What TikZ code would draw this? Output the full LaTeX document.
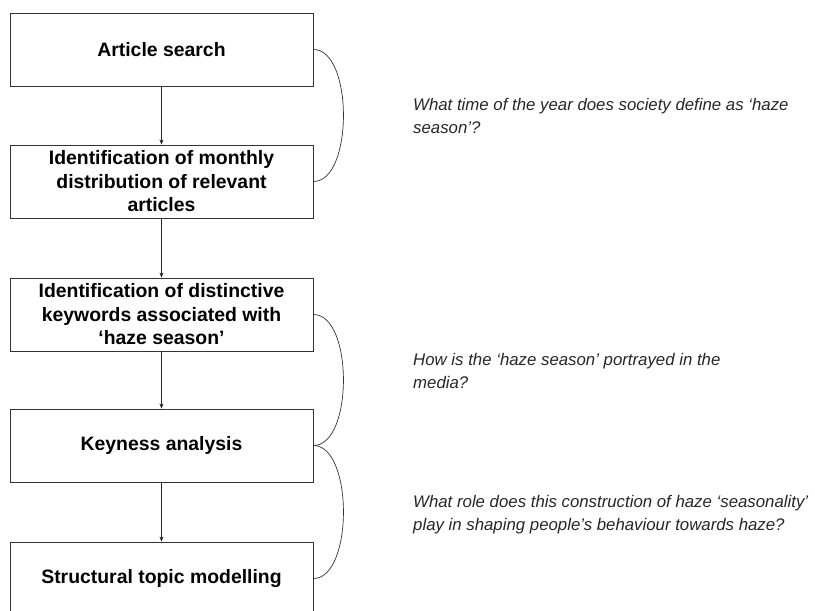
\documentclass[tikz,border=0pt]{standalone}
\usepackage{fontspec}
\setmainfont{Liberation Sans}
\usetikzlibrary{arrows.meta,positioning}

\begin{document}
\begin{tikzpicture}[x=1pt,y=-1pt,
  stage/.style={draw=black!80,line width=0.9pt,minimum width=303pt,minimum height=73pt,
    inner sep=0pt,align=center,font=\bfseries\fontsize{19.4}{23.5}\selectfont},
  question/.style={anchor=base west,align=left,inner sep=0pt,
    font=\itshape\fontsize{16.8}{23}\selectfont,text=black!85},
  flow/.style={-{Stealth[length=5pt,width=4pt]},line width=0.6pt,black!85},
  brace/.style={line width=0.7pt,black!80}]
\clip (0,0) rectangle (815,611);

\node[stage] (s1) at (161.5,49.5) {Article search};
\node[stage] (s2) at (161.5,181.5) {Identification of monthly\\distribution of relevant\\articles};
\node[stage] (s3) at (161.5,314.5) {Identification of distinctive\\keywords associated with\\‘haze season’};
\node[stage] (s4) at (161.5,445.5) {Keyness analysis};
\node[stage] (s5) at (161.5,578.5) {Structural topic modelling};

% base of the last line
\node[question] (q1) at (413,133) {What time of the year does society define as ‘haze\\season’?};
\node[question] (q2) at (413,388) {How is the ‘haze season’ portrayed in the\\media?};
\node[question] (q3) at (413,530) {What role does this construction of haze ‘seasonality’\\play in shaping people’s behaviour towards haze?};

\draw[flow] (s1) -- (s2);
\draw[flow] (s2) -- (s3);
\draw[flow] (s3) -- (s4);
\draw[flow] (s4) -- (s5);

% brackets joining the stages
\draw[brace] (s1.east) .. controls +(40,0) and +(40,0) .. (s2.east);
\draw[brace] (s3.east) .. controls +(40,0) and +(40,0) .. (s4.east);
\draw[brace] (s4.east) .. controls +(40,0) and +(40,0) .. (s5.east);
\end{tikzpicture}
\end{document}
